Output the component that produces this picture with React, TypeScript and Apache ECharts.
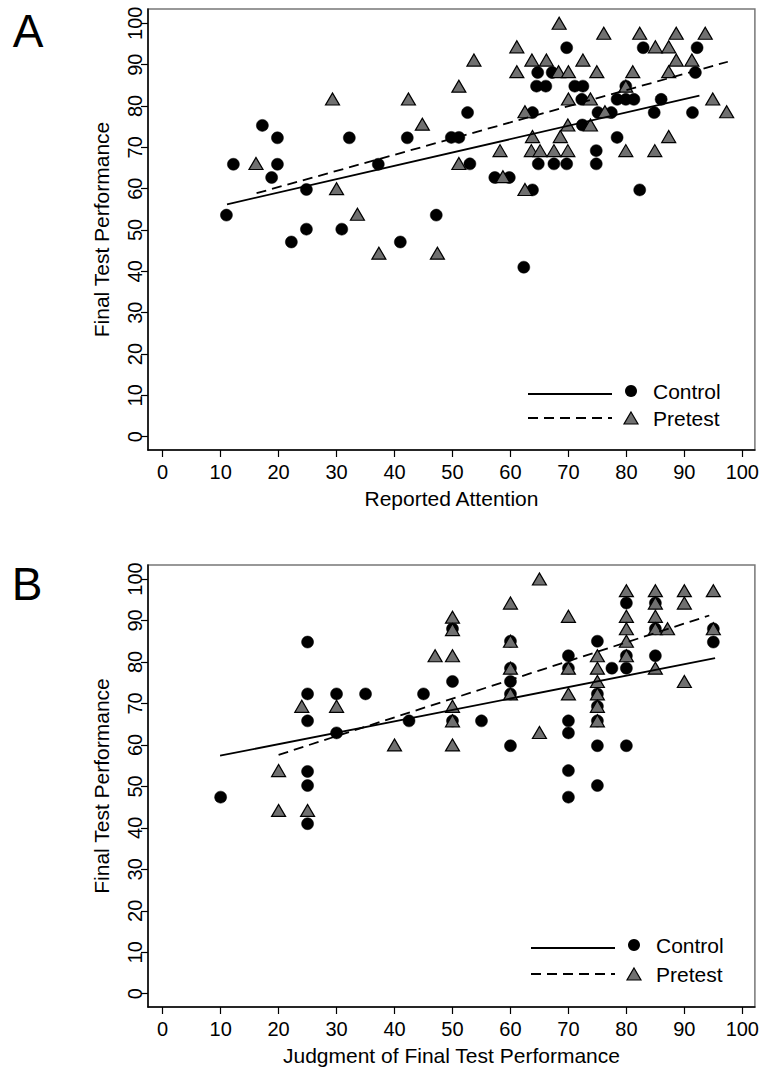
import React, { useEffect, useRef } from "react";
import * as echarts from "echarts";

const FONT = "'Liberation Sans', Arial, Helvetica, sans-serif";

const tickValues = [0, 10, 20, 30, 40, 50, 60, 70, 80, 90, 100];
const groupNames = ["Control", "Pretest"];
const panelLetters = ["A", "B"];
const xTitles = ["Reported Attention", "Judgment of Final Test Performance"];
const yTitle = "Final Test Performance";

// Panel A: Reported Attention vs Final Test Performance
const controlA: [number, number][] = [
  [17.2, 75.3], [19.8, 72.3], [32.2, 72.3], [42.2, 72.3], [12.2, 65.9], [19.8, 65.9],
  [18.8, 62.7], [37.2, 65.9], [24.8, 59.8], [11.0, 53.6], [47.2, 53.6], [24.8, 50.2],
  [30.9, 50.2], [22.2, 47.1], [41.0, 47.1], [62.3, 41.0],
  [69.7, 94.1], [82.9, 94.1], [92.2, 94.1], [64.7, 88.1], [67.2, 88.1], [91.9, 88.1],
  [64.5, 84.8], [66.1, 84.8], [71.1, 84.8], [72.5, 84.8], [79.9, 84.8], [72.3, 81.6],
  [78.4, 81.6], [79.9, 81.6], [81.3, 81.6], [86.0, 81.6], [52.6, 78.4], [63.8, 78.4],
  [75.1, 78.4], [77.4, 78.4], [84.8, 78.4], [91.4, 78.4], [72.4, 75.4], [49.8, 72.4],
  [51.1, 72.4], [78.4, 72.4], [74.8, 69.2], [53.0, 66.0], [64.8, 66.0], [67.5, 66.0],
  [69.7, 66.0], [74.8, 66.0], [57.3, 62.7], [59.8, 62.7], [63.8, 59.7], [82.3, 59.7],
];
const pretestA: [number, number][] = [
  [29.3, 81.7], [42.4, 81.7], [44.8, 75.6], [16.1, 66.1], [30.0, 60.0], [33.6, 53.8],
  [37.3, 44.4], [47.4, 44.4],
  [68.4, 100.0], [76.1, 97.6], [82.3, 97.6], [88.6, 97.6], [93.6, 97.6], [61.1, 94.3],
  [85.0, 94.3], [87.3, 94.3], [53.7, 91.1], [63.7, 91.1], [66.2, 91.1], [72.5, 91.1],
  [88.6, 91.1], [91.3, 91.1], [61.1, 88.3], [68.3, 88.3], [70.0, 88.3], [74.9, 88.3],
  [81.1, 88.3], [87.3, 88.3], [51.1, 84.8], [79.9, 84.8], [70.0, 81.7], [73.8, 81.7],
  [94.9, 81.7], [62.5, 78.6], [76.3, 78.6], [97.3, 78.6], [69.9, 75.4], [73.8, 75.4],
  [87.3, 72.6], [63.8, 72.6], [68.6, 72.6], [58.2, 69.2], [63.6, 69.2], [65.1, 69.2],
  [67.5, 69.2], [69.9, 69.2], [79.9, 69.2], [84.9, 69.2], [51.1, 66.1], [58.7, 62.9],
  [62.5, 59.8],
];
const fitControlA: [number, number][] = [[11.1, 56.2], [92.6, 82.5]];
const fitPretestA: [number, number][] = [[16.2, 58.9], [97.5, 90.7]];

// Panel B: Judgment of Final Test Performance vs Final Test Performance
const controlB: [number, number][] = [
  [25, 84.8], [25, 72.3], [30, 72.3], [35, 72.3], [45, 72.3], [25, 65.8], [30, 62.9],
  [42.5, 65.8], [25, 53.6], [25, 50.2], [10, 47.4], [50, 75.3], [25, 41.0],
  [80, 94.2], [85, 94.2], [50, 88.0], [85, 88.0], [95, 88.0], [95, 84.8], [60, 85.0],
  [75, 85.0], [70, 81.5], [80, 81.5], [85, 81.5], [60, 78.5], [70, 78.5], [77.5, 78.5],
  [80, 78.5], [60, 75.3], [60, 72.3], [75, 72.3], [75, 69.3], [50, 65.8], [55, 65.8],
  [70, 65.8], [75, 65.8], [70, 62.9], [60, 59.8], [75, 59.8], [80, 59.8], [70, 53.8],
  [75, 50.2], [70, 47.4],
];
const pretestB: [number, number][] = [
  [47, 81.5], [50, 81.5], [50, 90.8], [50, 87.8], [24, 69.3], [30, 69.3], [40, 60.0],
  [20, 53.8], [50, 69.3], [50, 65.8], [50, 60.0], [20, 44.2], [25, 44.2],
  [65, 100.0], [80, 97.2], [85, 97.2], [90, 97.2], [95, 97.2], [60, 94.2], [85, 94.2],
  [90, 94.2], [70, 91.0], [80, 91.0], [85, 91.0], [80, 88.0], [85, 88.0], [87.1, 88.0],
  [95, 88.0], [60, 85.0], [80, 85.0], [75, 81.5], [80, 81.5], [60, 78.5], [70, 78.5],
  [75, 78.5], [85, 78.5], [75, 75.3], [90, 75.3], [60, 72.3], [70, 72.3], [75, 72.3],
  [75, 69.3], [75, 65.8], [65, 63.0],
];
const fitControlB: [number, number][] = [[9.9, 57.4], [95.3, 80.9]];
const fitPretestB: [number, number][] = [[20.0, 57.6], [94.3, 91.2]];

const DASH = [10, 6];
const TRI_FILL = "#707070";

function xAxisFor(gridIndex: number, name: string) {
  return {
    type: "value",
    gridIndex,
    min: -2.53,
    max: 102.17,
    name,
    nameLocation: "middle",
    nameGap: 38,
    nameTextStyle: { fontFamily: FONT, fontSize: 21, color: "#000" },
    axisLine: { show: true, onZero: false, lineStyle: { color: "#000", width: 1.5 } },
    axisTick: { show: true, length: 7, customValues: tickValues, lineStyle: { color: "#000", width: 1.2 } },
    axisLabel: { customValues: tickValues, fontFamily: FONT, fontSize: 20, color: "#000", margin: 12 },
    splitLine: { show: false },
  };
}

function yAxisFor(gridIndex: number, min: number, max: number) {
  return {
    type: "value",
    gridIndex,
    min,
    max,
    name: yTitle,
    nameLocation: "middle",
    nameGap: 36,
    nameTextStyle: { fontFamily: FONT, fontSize: 21, color: "#000" },
    axisLine: { show: true, onZero: false, lineStyle: { color: "#000", width: 1.5 } },
    axisTick: { show: true, length: 7, customValues: tickValues, lineStyle: { color: "#000", width: 1.2 } },
    axisLabel: { customValues: tickValues, rotate: 90, fontFamily: FONT, fontSize: 20, color: "#000", margin: 3 },
    splitLine: { show: false },
  };
}

function seriesFor(idx: number, control: [number, number][], pretest: [number, number][], fitC: [number, number][], fitP: [number, number][]) {
  return [
    {
      type: "scatter",
      name: groupNames[0],
      xAxisIndex: idx,
      yAxisIndex: idx,
      data: control,
      symbol: "circle",
      symbolSize: 12,
      itemStyle: { color: "#000", borderColor: "#000", borderWidth: 0.5, opacity: 1 },
      z: 2,
    },
    {
      type: "scatter",
      name: groupNames[1],
      xAxisIndex: idx,
      yAxisIndex: idx,
      data: pretest,
      symbol: "triangle",
      symbolSize: [14, 12],
      itemStyle: { color: TRI_FILL, borderColor: "#000", borderWidth: 1.2, opacity: 1 },
      z: 3,
    },
    {
      type: "line",
      xAxisIndex: idx,
      yAxisIndex: idx,
      data: fitC,
      showSymbol: false,
      symbol: "none",
      lineStyle: { color: "#000", width: 1.8, type: "solid" },
      z: 4,
    },
    {
      type: "line",
      xAxisIndex: idx,
      yAxisIndex: idx,
      data: fitP,
      showSymbol: false,
      symbol: "none",
      lineStyle: { color: "#000", width: 1.8, type: DASH },
      z: 4,
    },
  ];
}

function legendGraphics(x0: number, yControl: number, yPretest: number) {
  const triW = 14;
  const triH = 12;
  const mx = x0 + 103;
  return [
    { type: "line", shape: { x1: x0, y1: yControl + 3, x2: x0 + 84, y2: yControl + 3 }, style: { stroke: "#000", lineWidth: 1.8 } },
    { type: "circle", shape: { cx: mx, cy: yControl, r: 6 }, style: { fill: "#000" } },
    { type: "text", x: x0 + 125, y: yControl, style: { text: groupNames[0], font: `21px ${FONT}`, fill: "#000", textVerticalAlign: "middle", verticalAlign: "middle" } },
    { type: "line", shape: { x1: x0, y1: yPretest, x2: x0 + 84, y2: yPretest }, style: { stroke: "#000", lineWidth: 1.8, lineDash: DASH } },
    {
      type: "polygon",
      shape: { points: [[mx, yPretest - triH / 2], [mx + triW / 2, yPretest + triH / 2], [mx - triW / 2, yPretest + triH / 2]] },
      style: { fill: TRI_FILL, stroke: "#000", lineWidth: 1.2 },
    },
    { type: "text", x: x0 + 125, y: yPretest, style: { text: groupNames[1], font: `21px ${FONT}`, fill: "#000", textVerticalAlign: "middle", verticalAlign: "middle" } },
  ];
}

export default function App() {
  const ref = useRef<HTMLDivElement>(null);
  useEffect(() => {
    if (!ref.current) return;
    const chart = echarts.init(ref.current, null, { renderer: "svg" });
    const option = {
      animation: false,
      backgroundColor: "#fff",
      textStyle: { fontFamily: FONT },
      grid: [
        { left: 148, top: 9, width: 607, height: 441, show: true, borderColor: "#777", borderWidth: 1.5, backgroundColor: "transparent" },
        { left: 148, top: 565, width: 607, height: 442, show: true, borderColor: "#777", borderWidth: 1.5, backgroundColor: "transparent" },
      ],
      xAxis: [xAxisFor(0, xTitles[0]), xAxisFor(1, xTitles[1])],
      yAxis: [yAxisFor(0, -3.22, 103.46), yAxisFor(1, -3.2, 103.38)],
      series: [
        ...seriesFor(0, controlA, pretestA, fitControlA, fitPretestA),
        ...seriesFor(1, controlB, pretestB, fitControlB, fitPretestB),
      ],
      graphic: [
        { type: "text", x: 28, y: 31, style: { text: panelLetters[0], font: `46px ${FONT}`, fill: "#000", align: "center", verticalAlign: "middle", textAlign: "center", textVerticalAlign: "middle" } },
        { type: "text", x: 27, y: 584, style: { text: panelLetters[1], font: `46px ${FONT}`, fill: "#000", align: "center", verticalAlign: "middle", textAlign: "center", textVerticalAlign: "middle" } },
        ...legendGraphics(528, 391, 418),
        ...legendGraphics(531, 945, 974),
      ],
    };
    chart.setOption(option as any);
    return () => chart.dispose();
  }, []);
  return (
    <div
      ref={ref}
      style={{ position: "absolute", left: 0, top: 0, width: 762, height: 1072, background: "#fff" }}
    />
  );
}
